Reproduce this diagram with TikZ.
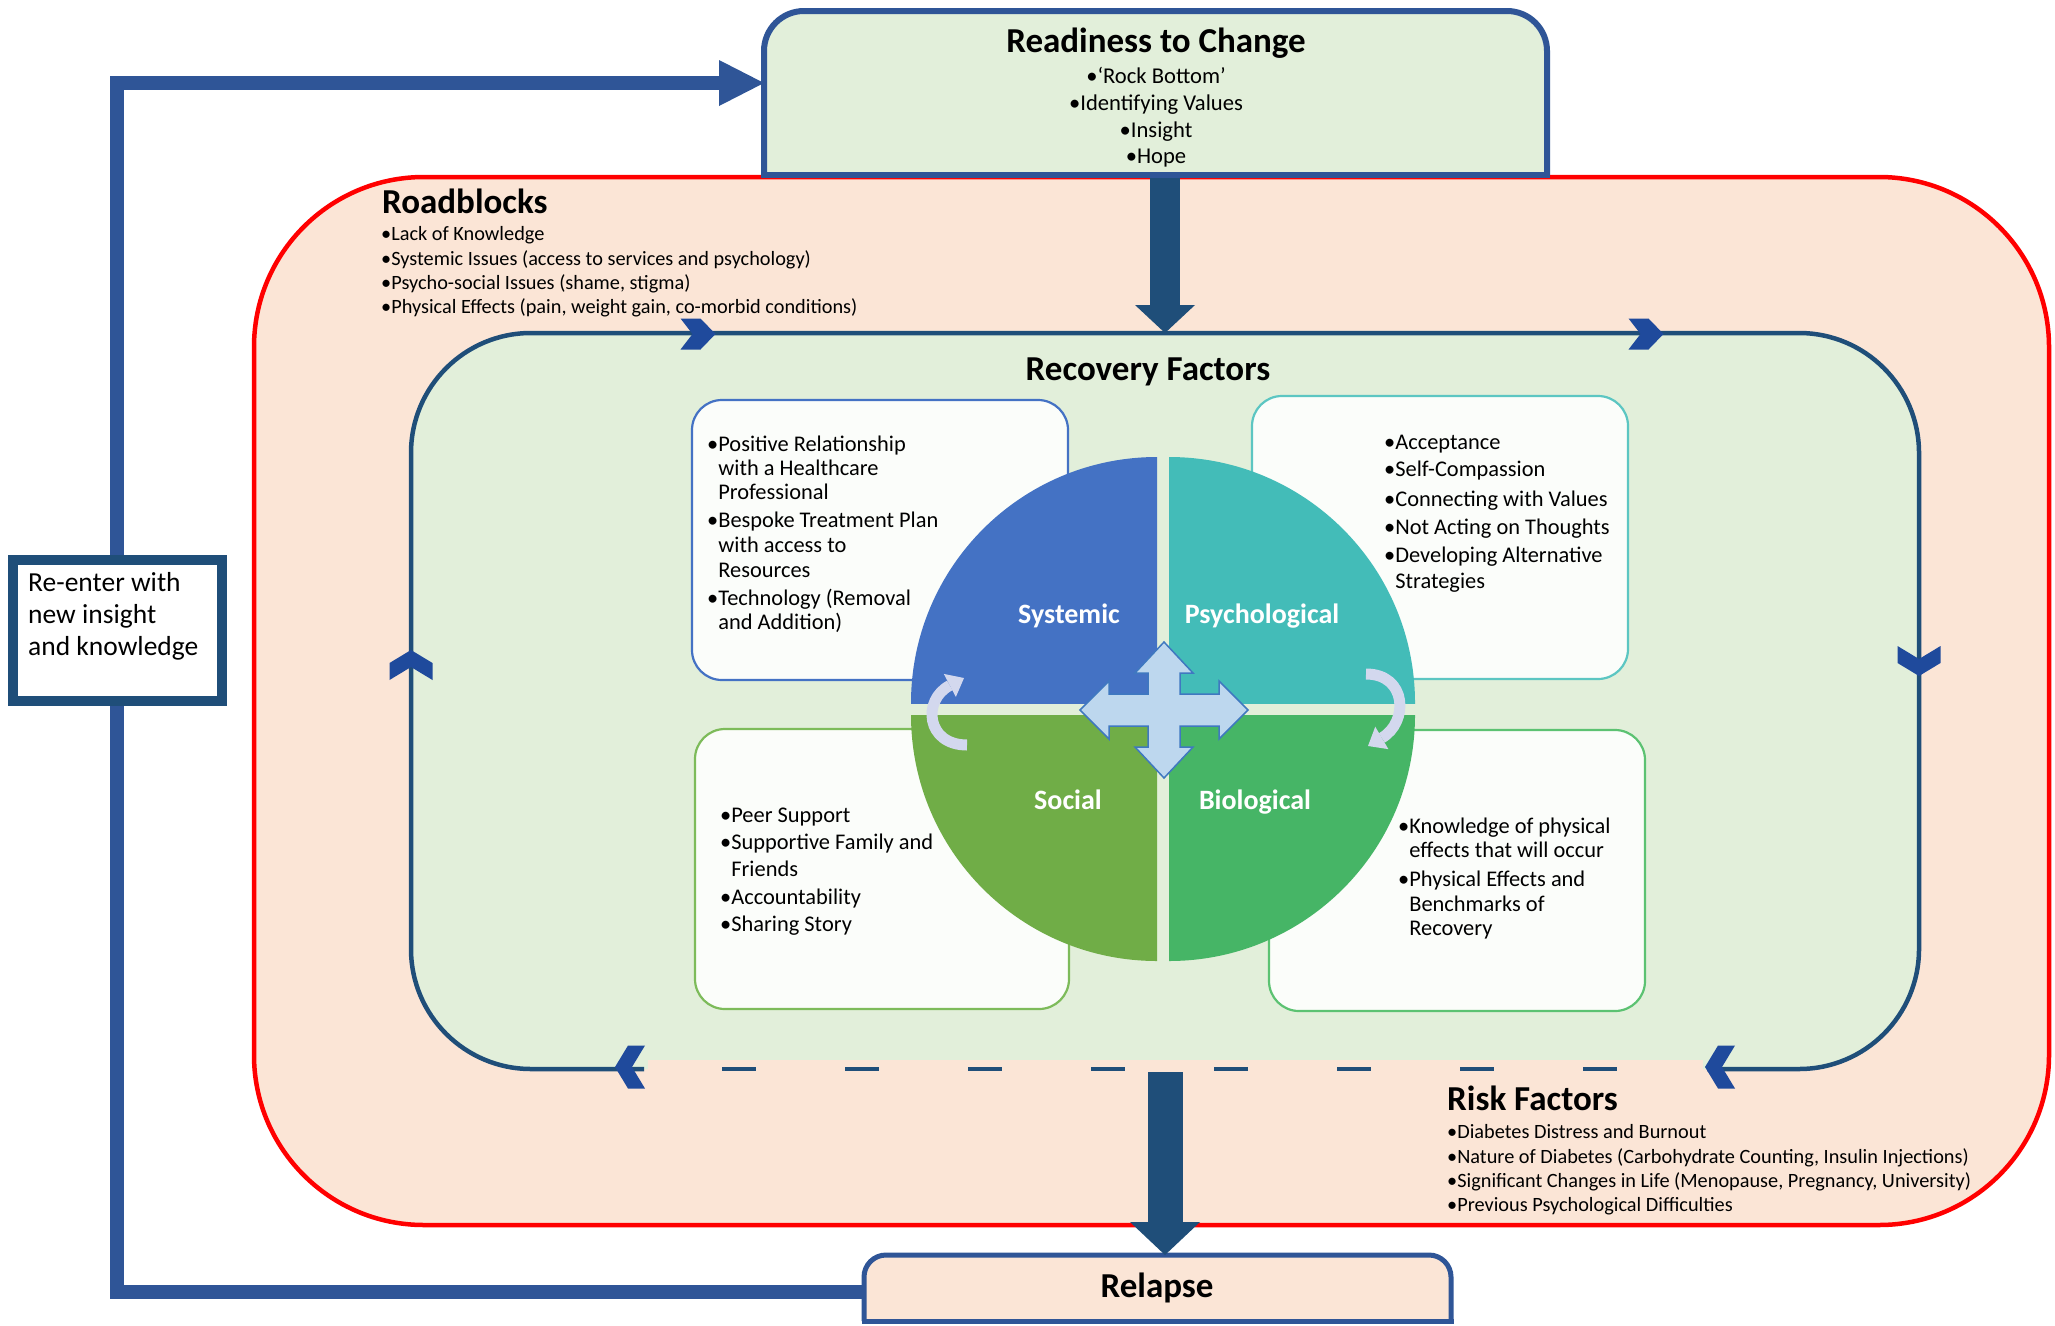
\documentclass[tikz,border=0pt]{standalone}
\usepackage{fontspec}
\setmainfont{Carlito}
\usetikzlibrary{arrows.meta}

\definecolor{peach}{HTML}{FBE5D6}
\definecolor{paleGreen}{HTML}{E2EFDA}
\definecolor{loopBlue}{HTML}{2F5597}
\definecolor{deepBlue}{HTML}{1F4E79}
\definecolor{chevBlue}{HTML}{1F4A9C}
\definecolor{sysBlue}{HTML}{4472C4}
\definecolor{psyTeal}{HTML}{43BCB8}
\definecolor{socGreen}{HTML}{70AD47}
\definecolor{bioGreen}{HTML}{46B566}
\definecolor{psyEdge}{HTML}{5CC6C2}
\definecolor{socEdge}{HTML}{7DBB5A}
\definecolor{bioEdge}{HTML}{5CC272}
\definecolor{boxWhite}{HTML}{FBFDFA}
\definecolor{crossFill}{HTML}{BDD7EE}
\definecolor{crossEdge}{HTML}{3F78C0}
\definecolor{cycleFill}{HTML}{D3D8EE}

\pgfdeclarelayer{under}
\pgfsetlayers{under,main}

\begin{document}
\begin{tikzpicture}[x=1pt,y=-1pt,line join=miter,
  frame/.style={rectangle,inner sep=0pt,outer sep=0pt},
  titletext/.style={inner sep=0pt,anchor=base,font=\fontsize{35}{42}\selectfont\bfseries},
  headtext/.style={inner sep=0pt,anchor=base west,font=\fontsize{35}{42}\selectfont\bfseries},
  itemtext/.style={inner sep=0pt,anchor=base west,font=\fontsize{22.4}{27}\selectfont},
  itemtextc/.style={inner sep=0pt,anchor=base,font=\fontsize{22.6}{27}\selectfont},
  smalltext/.style={inner sep=0pt,anchor=base west,font=\fontsize{20.3}{24}\selectfont},
  notetext/.style={inner sep=0pt,anchor=base west,font=\fontsize{27.5}{33}\selectfont},
  quadtext/.style={inner sep=0pt,anchor=base,text=white,font=\fontsize{28}{33}\selectfont\bfseries},
  factorbox/.style={frame,rounded corners=30,line width=2.2pt,fill=boxWhite},
  downarrow/.style={draw=deepBlue,line width=30pt,-{Triangle[width=60pt,length=28pt,line width=0pt]}},
  relapsearrow/.style={draw=deepBlue,line width=35pt,-{Triangle[width=70pt,length=33pt,line width=0pt]}},
  looparrow/.style={draw=loopBlue,line width=14pt,-{Triangle[width=46pt,length=45pt,line width=0pt]}},
  cyclearrow/.style={draw=cycleFill,line width=11pt,-{Triangle[width=26pt,length=16pt,line width=0pt]}},
  chevA/.pic={\fill[chevBlue] (-17.5,-15.5) -- (2.5,-15.5) -- (17.5,0) -- (2.5,15.5) -- (-17.5,15.5) -- (-5.5,0) -- cycle;},
  chevB/.pic={\fill[chevBlue] (-15,-21.5) -- (2,-21.5) -- (15,0) -- (2,21.5) -- (-15,21.5) -- (-2,0) -- cycle;},
]
\useasboundingbox (0,0) rectangle (2055,1325);

% ---- outer zone: roadblocks and risk factors ----
\node[frame,rounded corners=170,draw=red,line width=4.5pt,fill=peach,
      minimum width=1795pt,minimum height=1048pt] (roadzone) at (1151.5,701) {};

% ---- recovery zone ----
\node[frame,rounded corners=120,fill=paleGreen,minimum width=1508pt,minimum height=736pt] (recov) at (1165,701) {};
\draw[deepBlue,line width=4.5pt,rounded corners=120]
  (644,1069) -- (recov.south west) -- (recov.north west) -- (recov.north east) -- (recov.south east) -- (1707,1069);
\fill[peach] (648,1060) rectangle (1703,1073);
\draw[deepBlue,line width=4.5pt,dash pattern=on 34pt off 89pt] (722,1069) -- (1618,1069);

% direction markers on the recovery loop
\pic at (698,334) {chevA};
\pic at (1646,334) {chevA};
\pic[rotate=-90] at (1919,661) {chevB};
\pic[rotate=180] at (630,1067) {chevB};
\pic[rotate=180] at (1720,1067) {chevB};
\pic[rotate=90] at (411,665) {chevB};

% ---- readiness box ----
\node[frame,minimum width=783pt,minimum height=164pt] (ready) at (1155.5,93) {};
\draw[downarrow] (ready.south -| recov.north) -- (recov.north);
\filldraw[fill=paleGreen,draw=loopBlue,line width=6pt,rounded corners=40]
  (ready.south west) -- (ready.north west) -- (ready.north east) -- (ready.south east);
\draw[loopBlue,line width=6pt,line cap=rect] (ready.south west) -- (ready.south east);
\node[titletext] (readyTitle) at (1156,52) {Readiness to Change};
\foreach [count=\i] \yy/\tx in {83/{•‘Rock Bottom’},110/{•Identifying Values},137/{•Insight},163/{•Hope}}
  \node[itemtextc,name=readyItem\i] at (1156,\yy) {\tx};

% ---- roadblocks ----
\node[headtext] (roadTitle) at (382,213) {Roadblocks};
\foreach [count=\i] \yy/\tx in {240/{•Lack of Knowledge},
    265/{•Systemic Issues (access to services and psychology)},
    289/{•Psycho-social Issues (shame, stigma)},
    313/{•Physical Effects (pain, weight gain, co-morbid conditions)}}
  \node[smalltext,name=roadItem\i] at (381,\yy) {\tx};

% ---- risk factors ----
\node[headtext] (riskTitle) at (1447,1110) {Risk Factors};
\foreach [count=\i] \yy/\tx in {1138/{•Diabetes Distress and Burnout},
    1163/{•Nature of Diabetes (Carbohydrate Counting, Insulin Injections)},
    1187/{•Significant Changes in Life (Menopause, Pregnancy, University)},
    1211/{•Previous Psychological Difficulties}}
  \node[smalltext,name=riskItem\i] at (1447,\yy) {\tx};

% ---- recovery factors ----
\node[titletext] (recovTitle) at (1148,380) {Recovery Factors};

\node[factorbox,draw=sysBlue,minimum width=376pt,minimum height=280pt] (sysBox) at (880,540) {};
\node[factorbox,draw=psyEdge,minimum width=376pt,minimum height=283pt] (psyBox) at (1440,537.5) {};
\node[factorbox,draw=socEdge,minimum width=374pt,minimum height=280pt] (socBox) at (882,869) {};
\node[factorbox,draw=bioEdge,minimum width=376pt,minimum height=281pt] (bioBox) at (1457,870.5) {};

\foreach [count=\i] \yy/\tx in {451/{•Positive Relationship},475/{\phantom{•}with a Healthcare},
    499/{\phantom{•}Professional},527/{•Bespoke Treatment Plan},552/{\phantom{•}with access to},
    577/{\phantom{•}Resources},605/{•Technology (Removal},629/{\phantom{•}and Addition)}}
  \node[itemtext,name=sysItem\i] at (707,\yy) {\tx};
\foreach [count=\i] \yy/\tx in {449/{•Acceptance},476/{•Self-Compassion},506/{•Connecting with Values},
    534/{•Not Acting on Thoughts},562/{•Developing Alternative},588/{\phantom{•}Strategies}}
  \node[itemtext,name=psyItem\i] at (1384,\yy) {\tx};
\foreach [count=\i] \yy/\tx in {822/{•Peer Support},849/{•Supportive Family and},876/{\phantom{•}Friends},
    904/{•Accountability},931/{•Sharing Story}}
  \node[itemtext,name=socItem\i] at (720,\yy) {\tx};
\foreach [count=\i] \yy/\tx in {833/{•Knowledge of physical},857/{\phantom{•}effects that will occur},
    886/{•Physical Effects and},911/{\phantom{•}Benchmarks of},935/{\phantom{•}Recovery}}
  \node[itemtext,name=bioItem\i] at (1398,\yy) {\tx};

% ---- four quadrants ----
\begin{scope}\clip (1157,703) rectangle (880,430); \fill[sysBlue] (1157,703) circle (246);\end{scope}
\begin{scope}\clip (1169,703) rectangle (1450,430); \fill[psyTeal] (1169,703) circle (246);\end{scope}
\begin{scope}\clip (1157,715) rectangle (880,990); \fill[socGreen] (1157,715) circle (246);\end{scope}
\begin{scope}\clip (1169,715) rectangle (1450,990); \fill[bioGreen] (1169,715) circle (246);\end{scope}

\node[quadtext] (sysLabel) at (1069,623) {Systemic};
\node[quadtext] (psyLabel) at (1262,623) {Psychological};
\node[quadtext] (socLabel) at (1068,809) {Social};
\node[quadtext] (bioLabel) at (1255,809) {Biological};

% four-way arrow at the centre
\filldraw[fill=crossFill,draw=crossEdge,line width=1.5pt,shift={(1164,710)}]
  (0,-68) -- (29,-37) -- (16,-37) -- (16,-16) -- (55,-16) -- (55,-29) -- (84,0) -- (55,29) -- (55,16)
  -- (16,16) -- (16,37) -- (29,37) -- (0,68) -- (-29,37) -- (-16,37) -- (-16,16) -- (-55,16) -- (-55,29)
  -- (-84,0) -- (-55,-29) -- (-55,-16) -- (-16,-16) -- (-16,-37) -- (-29,-37) -- cycle;

% cycle arrows
\draw[cyclearrow] (967,745) .. controls (926,745) and (922,700) .. (964,678);
\draw[cyclearrow] (1366,674) .. controls (1407,674) and (1409,722) .. (1368,746);

% ---- relapse box ----
\node[frame,minimum width=587pt,minimum height=66pt] (relapse) at (1157.5,1288) {};
\filldraw[fill=peach,draw=loopBlue,line width=5pt,rounded corners=22]
  (relapse.south west) -- (relapse.north west) -- (relapse.north east) -- (relapse.south east);
\draw[loopBlue,line width=5pt,line cap=rect] (relapse.south west) -- (relapse.south east);
\node[titletext] (relapseTitle) at (1157,1297) {Relapse};
\draw[relapsearrow] ([yshift=-3pt]recov.south) -- (recov.south |- relapse.north);

% ---- re-entry note ----
\node[frame,draw=deepBlue,line width=10pt,fill=white,minimum width=209pt,minimum height=141pt] (reenter) at (117,630.5) {};
\node[notetext] (reenterL1) at (28,591) {Re-enter with};
\node[notetext] (reenterL2) at (28,623) {new insight};
\node[notetext] (reenterL3) at (28,655) {and knowledge};

% ---- page background and feedback loop ----
\begin{pgfonlayer}{under}
  \fill[white] (0,0) rectangle (2055,1325);
  \draw[looparrow] ([yshift=-4pt]relapse.west) -| (reenter.center) |- ([yshift=10pt]ready.west);
\end{pgfonlayer}
\end{tikzpicture}
\end{document}
